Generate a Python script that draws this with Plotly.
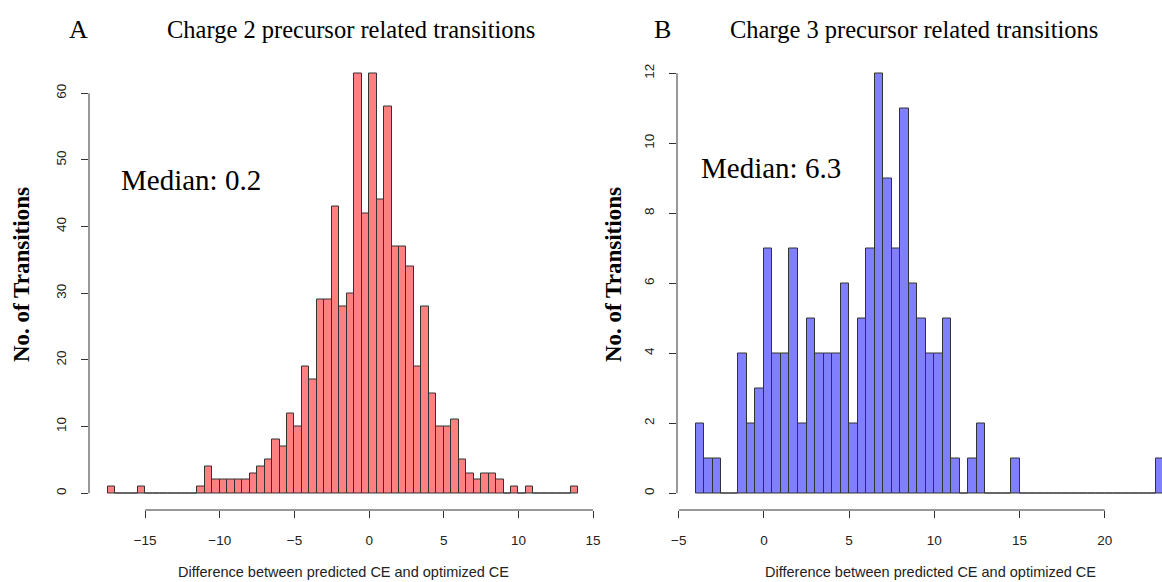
import plotly.graph_objects as go

# ---------------- data ----------------
# Panel A: charge 2 precursors, histogram bins of width 0.5 (left edges)
A_bin_left = [-17.5, -17.0, -16.5, -16.0, -15.5, -15.0, -14.5, -14.0, -13.5, -13.0,
              -12.5, -12.0, -11.5, -11.0, -10.5, -10.0, -9.5, -9.0, -8.5, -8.0,
              -7.5, -7.0, -6.5, -6.0, -5.5, -5.0, -4.5, -4.0, -3.5, -3.0,
              -2.5, -2.0, -1.5, -1.0, -0.5, 0.0, 0.5, 1.0, 1.5, 2.0,
              2.5, 3.0, 3.5, 4.0, 4.5, 5.0, 5.5, 6.0, 6.5, 7.0,
              7.5, 8.0, 8.5, 9.0, 9.5, 10.0, 10.5, 11.0, 11.5, 12.0,
              12.5, 13.0, 13.5]
A_counts = [1, 0, 0, 0, 1, 0, 0, 0, 0, 0,
            0, 0, 1, 4, 2, 2, 2, 2, 2, 3,
            4, 5, 8, 7, 12, 10, 19, 17, 29, 29,
            43, 28, 30, 63, 42, 63, 44, 58, 37, 37,
            34, 19, 28, 15, 10, 10, 11, 5, 3, 2,
            3, 3, 2, 0, 1, 0, 1, 0, 0, 0,
            0, 0, 1]

# Panel B: charge 3 precursors
B_bin_left = [-4.0, -3.5, -3.0, -2.5, -2.0, -1.5, -1.0, -0.5, 0.0, 0.5,
              1.0, 1.5, 2.0, 2.5, 3.0, 3.5, 4.0, 4.5, 5.0, 5.5,
              6.0, 6.5, 7.0, 7.5, 8.0, 8.5, 9.0, 9.5, 10.0, 10.5,
              11.0, 11.5, 12.0, 12.5, 13.0, 13.5, 14.0, 14.5, 15.0, 15.5,
              16.0, 16.5, 17.0, 17.5, 18.0, 18.5, 19.0, 19.5, 20.0, 20.5,
              21.0, 21.5, 22.0, 22.5, 23.0]
B_counts = [2, 1, 1, 0, 0, 4, 2, 3, 7, 4,
            4, 7, 2, 5, 4, 4, 4, 6, 2, 5,
            7, 12, 9, 7, 11, 6, 5, 4, 4, 5,
            1, 0, 1, 2, 0, 0, 0, 1, 0, 0,
            0, 0, 0, 0, 0, 0, 0, 0, 0, 0,
            0, 0, 0, 0, 1]

BIN_WIDTH = 0.5

A_xticks = [-15, -10, -5, 0, 5, 10, 15]
A_yticks = [0, 10, 20, 30, 40, 50, 60]
B_xticks = [-5, 0, 5, 10, 15, 20]
B_yticks = [0, 2, 4, 6, 8, 10, 12]

A_title = "Charge 2 precursor related transitions"
B_title = "Charge 3 precursor related transitions"
A_median = "Median: 0.2"
B_median = "Median: 6.3"
x_label = "Difference between predicted CE and optimized CE"
y_label = "No. of Transitions"

# ---------------- layout geometry ----------------
W, H = 1162, 582
def px(x):
    return x / W
def py(y):
    return (H - y) / H

Y_DOM = [py(510), py(56.5)]
A_XDOM = [px(89), px(597)]
B_XDOM = [px(677), 1.0]

SERIF = "Liberation Serif, Times New Roman, serif"
SANS = "Liberation Sans, Arial, sans-serif"
TICKFONT = dict(family=SANS, size=13.5, color="#222")
AXCOL = "#333"

fig = go.Figure()
fig.add_trace(go.Bar(x=A_bin_left, y=A_counts, width=BIN_WIDTH, offset=0,
                     marker=dict(color="#FF8080", line=dict(color="#333333", width=1)),
                     xaxis="x", yaxis="y", hoverinfo="x+y"))
fig.add_trace(go.Bar(x=B_bin_left, y=B_counts, width=BIN_WIDTH, offset=0,
                     marker=dict(color="#8080FF", line=dict(color="#333333", width=1)),
                     xaxis="x2", yaxis="y2", hoverinfo="x+y"))

common_x = dict(ticks="outside", ticklen=7, tickwidth=1, tickcolor=AXCOL,
                showline=False, showgrid=False, zeroline=False,
                tickfont=TICKFONT, ticklabelstandoff=11)
common_y = dict(ticks="outside", ticklen=7, tickwidth=1, tickcolor=AXCOL,
                showline=False, showgrid=False, zeroline=False,
                tickfont=TICKFONT, tickangle=-90, ticklabelstandoff=10)

fig.update_layout(
    width=W, height=H,
    margin=dict(l=0, r=0, t=0, b=0),
    paper_bgcolor="white", plot_bgcolor="white",
    showlegend=False, bargap=0,
    xaxis=dict(domain=A_XDOM, range=[-18.76, 15.26], tickvals=A_xticks,
               anchor="y", automargin=False, **common_x),
    yaxis=dict(domain=Y_DOM, range=[-2.52, 65.52], tickvals=A_yticks,
               anchor="x", automargin=False, **common_y),
    xaxis2=dict(domain=B_XDOM, range=[-5.1, 23.36], tickvals=B_xticks,
                anchor="y2", automargin=False, **common_x),
    yaxis2=dict(domain=Y_DOM, range=[-0.48, 12.48], tickvals=B_yticks,
                anchor="x2", automargin=False, **common_y),
)

# R-style axis lines spanning first to last tick
shapes = []
for xr, yr, xt, yt, xdom in (("x", "y", A_xticks, A_yticks, A_XDOM),
                             ("x2", "y2", B_xticks, B_yticks, B_XDOM)):
    shapes.append(dict(type="line", xref=xr, yref="paper",
                       x0=xt[0], x1=xt[-1], y0=Y_DOM[0], y1=Y_DOM[0],
                       line=dict(color=AXCOL, width=1)))
    shapes.append(dict(type="line", xref="paper", yref=yr,
                       x0=xdom[0], x1=xdom[0], y0=yt[0], y1=yt[-1],
                       line=dict(color=AXCOL, width=1)))
fig.update_layout(shapes=shapes)

ann = []
def add_text(text, x, y, size, family=SERIF, bold=False, angle=0, color="black"):
    ann.append(dict(text=("<b>%s</b>" % text) if bold else text,
                    xref="paper", yref="paper", x=px(x), y=py(y),
                    xanchor="center", yanchor="middle", showarrow=False,
                    textangle=angle, font=dict(family=family, size=size, color=color)))

add_text("A", 78, 29, 26)
add_text("B", 662, 29, 26)
add_text(A_title, 351, 29, 24.5)
add_text(B_title, 914, 29, 24.5)
add_text(A_median, 191, 180, 29)
add_text(B_median, 771, 168, 29)
add_text(y_label, 21, 275, 23, bold=True, angle=-90)
add_text(y_label, 613, 275, 23, bold=True, angle=-90)
add_text(x_label, 343, 572, 14.5, family=SANS, color="#222")
add_text(x_label, 930, 572, 14.5, family=SANS, color="#222")
fig.update_layout(annotations=ann)

fig.write_html("out.html")
